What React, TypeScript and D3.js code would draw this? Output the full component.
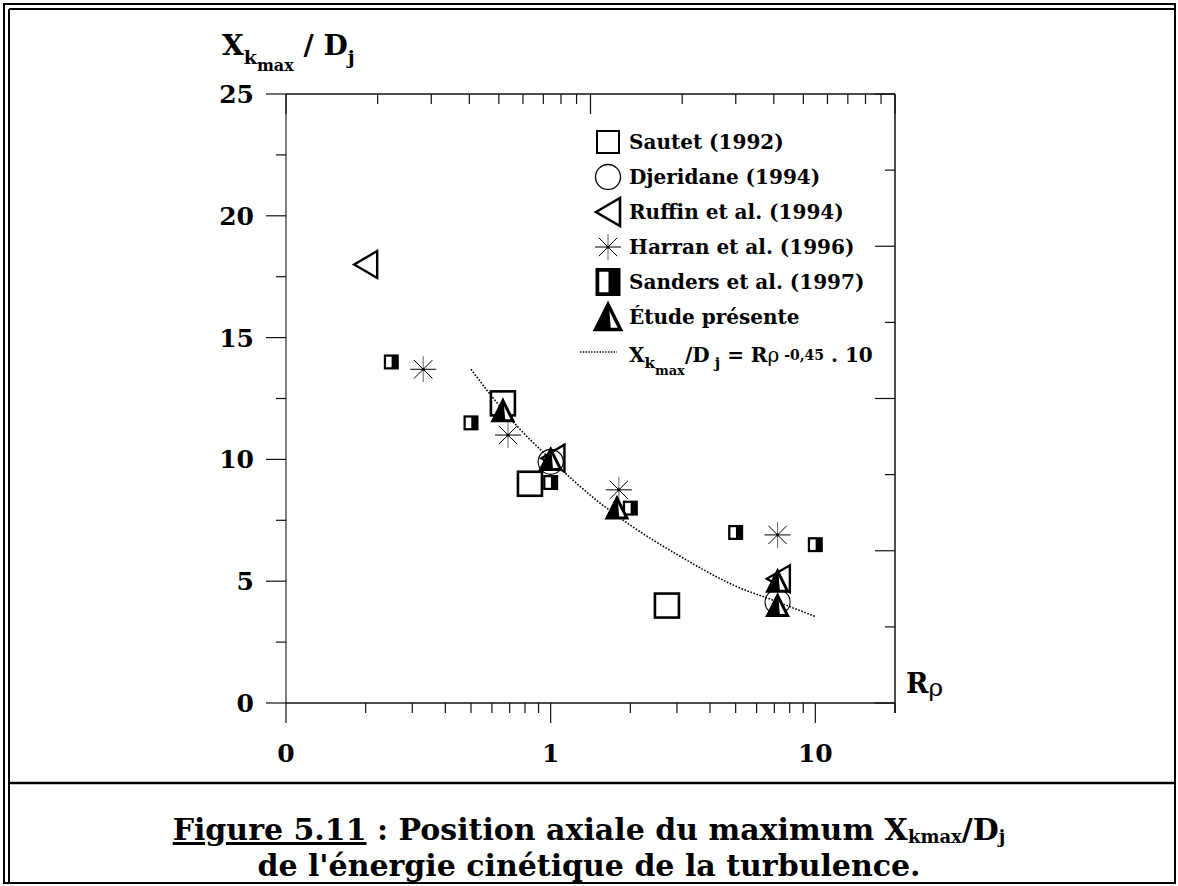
import React from "react";
import * as d3 from "d3";

const W = 1178;
const H = 886;

// Points : R_rho (x, log) et X_kmax / D_j (y)
const sautetX = [0.66, 0.835, 2.75];
const sautetY = [12.3, 9.0, 4.0];
const djeridaneX = [1.0, 7.2];
const djeridaneY = [9.9, 4.15];
const ruffinX = [0.2, 1.02, 7.25];
const ruffinY = [18.0, 10.05, 5.1];
const harranX = [0.33, 0.69, 1.81, 7.2];
const harranY = [13.7, 11.0, 8.75, 6.9];
const sandersX = [0.25, 0.5, 1.0, 2.0, 5.0, 10.0];
const sandersY = [14.0, 11.5, 9.05, 8.0, 7.0, 6.5];
const etudeX = [0.66, 1.0, 1.78, 7.2, 7.2];
const etudeY = [12.0, 10.0, 8.0, 5.0, 4.0];

// courbe pointillée
const fitX = [0.5, 0.7, 1, 1.5, 2, 3, 5, 7, 10];
const fitY = [13.7, 11.7, 10.0, 8.3, 7.3, 6.1, 4.8, 4.2, 3.55];

// axes
const xLabelValues = [0.1, 1, 10];
const xLabelTexts = ["0", "1", "10"];
const yLabelValues = [0, 5, 10, 15, 20, 25];

const legendNames = [
  "Sautet (1992)",
  "Djeridane (1994)",
  "Ruffin et al. (1994)",
  "Harran et al. (1996)",
  "Sanders et al. (1997)",
  "Étude présente",
];

const FONT = "'DejaVu Serif', serif";

// ---- marqueurs ----
function Square({ cx, cy, s = 24, sw = 2.6 }: any) {
  return <rect x={cx - s / 2} y={cy - s / 2} width={s} height={s} fill="none" stroke="#000" strokeWidth={sw} />;
}
function Circle({ cx, cy, r = 12.5, sw = 1.1 }: any) {
  return <circle cx={cx} cy={cy} r={r} fill="none" stroke="#000" strokeWidth={sw} />;
}
function LeftTri({ cx, cy, w = 23, h = 27, sw = 2.4 }: any) {
  const p = [
    [cx - w / 2, cy],
    [cx + w / 2, cy - h / 2],
    [cx + w / 2, cy + h / 2],
  ];
  return <polygon points={p.map((d) => d.join(",")).join(" ")} fill="none" stroke="#000" strokeWidth={sw} strokeLinejoin="miter" />;
}
function Star({ cx, cy, r = 13 }: any) {
  const a = r * Math.SQRT1_2;
  return (
    <g stroke="#000" strokeWidth={1}>
      <line x1={cx - r} y1={cy} x2={cx + r} y2={cy} />
      <line x1={cx} y1={cy - r} x2={cx} y2={cy + r} stroke="#666" />
      <line x1={cx - a} y1={cy - a} x2={cx + a} y2={cy + a} />
      <line x1={cx - a} y1={cy + a} x2={cx + a} y2={cy - a} />
      <circle cx={cx} cy={cy} r={1.6} fill="#000" stroke="none" />
    </g>
  );
}
function HalfSquare({ cx, cy, w = 15, h = 15 }: any) {
  const b = Math.max(2.2, w * 0.15);
  return (
    <g>
      <rect x={cx - w / 2} y={cy - h / 2} width={w} height={h} fill="#000" />
      <rect x={cx - w / 2 + b} y={cy - h / 2 + b} width={w * 0.37} height={h - 2 * b} fill="#fff" />
    </g>
  );
}
function HalfTri({ cx, cy, s = 20, sw = 3 }: any) {
  const top = cy - s / 2;
  const bot = cy + s / 2;
  const outer = [
    [cx, top],
    [cx - s / 2, bot],
    [cx + s / 2, bot],
  ];
  const left = [
    [cx, top],
    [cx - s / 2, bot],
    [cx + s * 0.08, bot],
  ];
  return (
    <g>
      <polygon points={outer.map((d) => d.join(",")).join(" ")} fill="#fff" stroke="#000" strokeWidth={sw} strokeLinejoin="miter" />
      <polygon points={left.map((d) => d.join(",")).join(" ")} fill="#000" stroke="#000" strokeWidth={sw * 0.5} />
    </g>
  );
}

export default function App() {
  const left = 286, right = 895, top = 94, bottom = 703;

  const x = d3.scaleLog().domain([0.1, 20]).range([left, right]);
  const y = d3.scaleLinear().domain([0, 25]).range([bottom, top]);
  const xTop = d3.scaleLog().domain([1, 100]).range([left, right]);
  const yRight = d3.scaleLinear().domain([0, 8]).range([bottom, top]);

  const isDecade = (v: number) => Math.abs(Math.log10(v) - Math.round(Math.log10(v))) < 1e-6;

  const xTicks = x.ticks();
  const xTopTicks = xTop.ticks();
  const yTicks = d3.range(0, 25.01, 2.5);
  const yRightTicks = yRight.ticks(8);

  const fitLine = d3
    .line<number>()
    .x((d) => x(d))
    .y((_, i) => y(fitY[i]))
    .curve(d3.curveMonotoneX);

  const lx = 608, ltx = 629, ly0 = 142, lstep = 35;
  const axisStroke = "#111";

  return (
    <svg width={W} height={H} style={{ position: "absolute", left: 0, top: 0, background: "#fff" }} fontFamily={FONT}>
      <rect x={0} y={0} width={W} height={H} fill="#fff" />

      {/* cadre double */}
      <rect x={4} y={4} width={1171} height={879} fill="none" stroke="#000" strokeWidth={2} />
      <line x1={9} y1={9} x2={9} y2={883} stroke="#000" strokeWidth={2} />
      <line x1={9} y1={9} x2={1175} y2={9} stroke="#000" strokeWidth={2} />
      <line x1={9} y1={783} x2={1175} y2={783} stroke="#000" strokeWidth={2.5} />

      {/* axe gauche */}
      <line x1={left} y1={top} x2={left} y2={bottom} stroke="#555" strokeWidth={1.5} />
      {yTicks.map((v) => {
        const major = v % 5 === 0;
        return <line key={"yl" + v} x1={left - (major ? 20 : 10)} x2={left} y1={y(v)} y2={y(v)} stroke={axisStroke} strokeWidth={1.2} />;
      })}
      {yLabelValues.map((v) => (
        <text key={"ylab" + v} x={254} y={y(v)} dy="0.36em" textAnchor="end" fontSize={25} fontWeight="bold">
          {v}
        </text>
      ))}

      {/* axe droit */}
      <line x1={right} y1={top} x2={right} y2={bottom + 10} stroke={axisStroke} strokeWidth={1.5} />
      {yRightTicks.map((v) => (
        <line key={"yr" + v} x1={right - (v % 2 === 0 ? 20 : 10)} x2={right} y1={yRight(v)} y2={yRight(v)} stroke={axisStroke} strokeWidth={1.2} />
      ))}

      {/* axe bas */}
      <line x1={left} y1={bottom} x2={right} y2={bottom} stroke={axisStroke} strokeWidth={1.5} />
      {xTicks.map((v) => (
        <line key={"xb" + v} x1={x(v)} x2={x(v)} y1={bottom} y2={bottom + (isDecade(v) ? 20 : 10)} stroke={axisStroke} strokeWidth={1.2} />
      ))}
      {xLabelValues.map((v, i) => (
        <text key={"xlab" + v} x={x(v)} y={753} dy="0.36em" textAnchor="middle" fontSize={25} fontWeight="bold">
          {xLabelTexts[i]}
        </text>
      ))}

      {/* axe haut */}
      <line x1={left} y1={top} x2={right} y2={top} stroke={axisStroke} strokeWidth={1.5} />
      {xTopTicks.map((v) => (
        <line key={"xt" + v} x1={xTop(v)} x2={xTop(v)} y1={top} y2={top + (isDecade(v) ? 20 : 10)} stroke={axisStroke} strokeWidth={1.2} />
      ))}

      {/* titre axe y */}
      <text x={222} y={55} fontSize={28} fontWeight="bold">
        X<tspan fontSize={19} dy={9}>k</tspan>
        <tspan fontSize={16} dy={7}>max</tspan>
        <tspan fontSize={28} dy={-16}> / D</tspan>
        <tspan fontSize={19} dy={9}>j</tspan>
      </text>

      {/* titre axe x */}
      <text x={906} y={693} fontSize={27} fontWeight="bold">
        R<tspan fontWeight="normal" fontSize={25} dy={3}>ρ</tspan>
      </text>

      {/* courbe */}
      <path d={fitLine(fitX) ?? ""} fill="none" stroke="#000" strokeWidth={1.6} strokeDasharray="1.6 1.6" />

      {/* séries */}
      {sautetX.map((v, i) => <Square key={"s" + i} cx={x(v)} cy={y(sautetY[i])} />)}
      {djeridaneX.map((v, i) => <Circle key={"d" + i} cx={x(v)} cy={y(djeridaneY[i])} />)}
      {ruffinX.map((v, i) => <LeftTri key={"r" + i} cx={x(v)} cy={y(ruffinY[i])} />)}
      {harranX.map((v, i) => <Star key={"h" + i} cx={x(v)} cy={y(harranY[i])} />)}
      {sandersX.map((v, i) => <HalfSquare key={"sa" + i} cx={x(v)} cy={y(sandersY[i])} />)}
      {etudeX.map((v, i) => <HalfTri key={"e" + i} cx={x(v)} cy={y(etudeY[i])} />)}

      {/* légende */}
      <Square cx={lx} cy={ly0} s={22} sw={2} />
      <Circle cx={lx} cy={ly0 + lstep} r={12.5} sw={1.3} />
      <LeftTri cx={lx} cy={ly0 + 2 * lstep} w={24} h={28} sw={2.6} />
      <Star cx={lx} cy={ly0 + 3 * lstep} r={13} />
      <HalfSquare cx={lx} cy={ly0 + 4 * lstep} w={25} h={28} />
      <HalfTri cx={lx} cy={ly0 + 5 * lstep} s={25} sw={3.5} />
      {legendNames.map((n, i) => (
        <text key={n} x={ltx} y={ly0 + i * lstep} dy="0.36em" fontSize={20} fontWeight="bold">
          {n}
        </text>
      ))}
      <line x1={580} x2={617} y1={352} y2={352} stroke="#000" strokeWidth={1.4} strokeDasharray="1.4 1.4" />
      <text x={ltx} y={362} fontSize={20} fontWeight="bold">
        X<tspan fontSize={15} dy={6}>k</tspan>
        <tspan fontSize={13} dy={7}>max</tspan>
        <tspan fontSize={20} dy={-13}>/D</tspan>
        <tspan fontSize={15} dy={6}> j</tspan>
        <tspan fontSize={20} dy={-6}> = R</tspan>
        <tspan fontWeight="normal">ρ</tspan>
        <tspan fontSize={14} dy={-2}> -0,45</tspan>
        <tspan fontSize={20} dy={2}> . 10</tspan>
      </text>

      {/* légende de la figure */}
      <text x={589} y={840} textAnchor="middle" fontSize={30} fontWeight="bold">
        <tspan style={{ textDecoration: "underline" }}>Figure 5.11</tspan> : Position axiale du maximum X
        <tspan fontSize={18} dy={3}>kmax</tspan>
        <tspan dy={-3}>/D</tspan>
        <tspan fontSize={18} dy={3}>j</tspan>
      </text>
      <text x={589} y={876} textAnchor="middle" fontSize={30} fontWeight="bold">
        de l'énergie cinétique de la turbulence.
      </text>
    </svg>
  );
}
